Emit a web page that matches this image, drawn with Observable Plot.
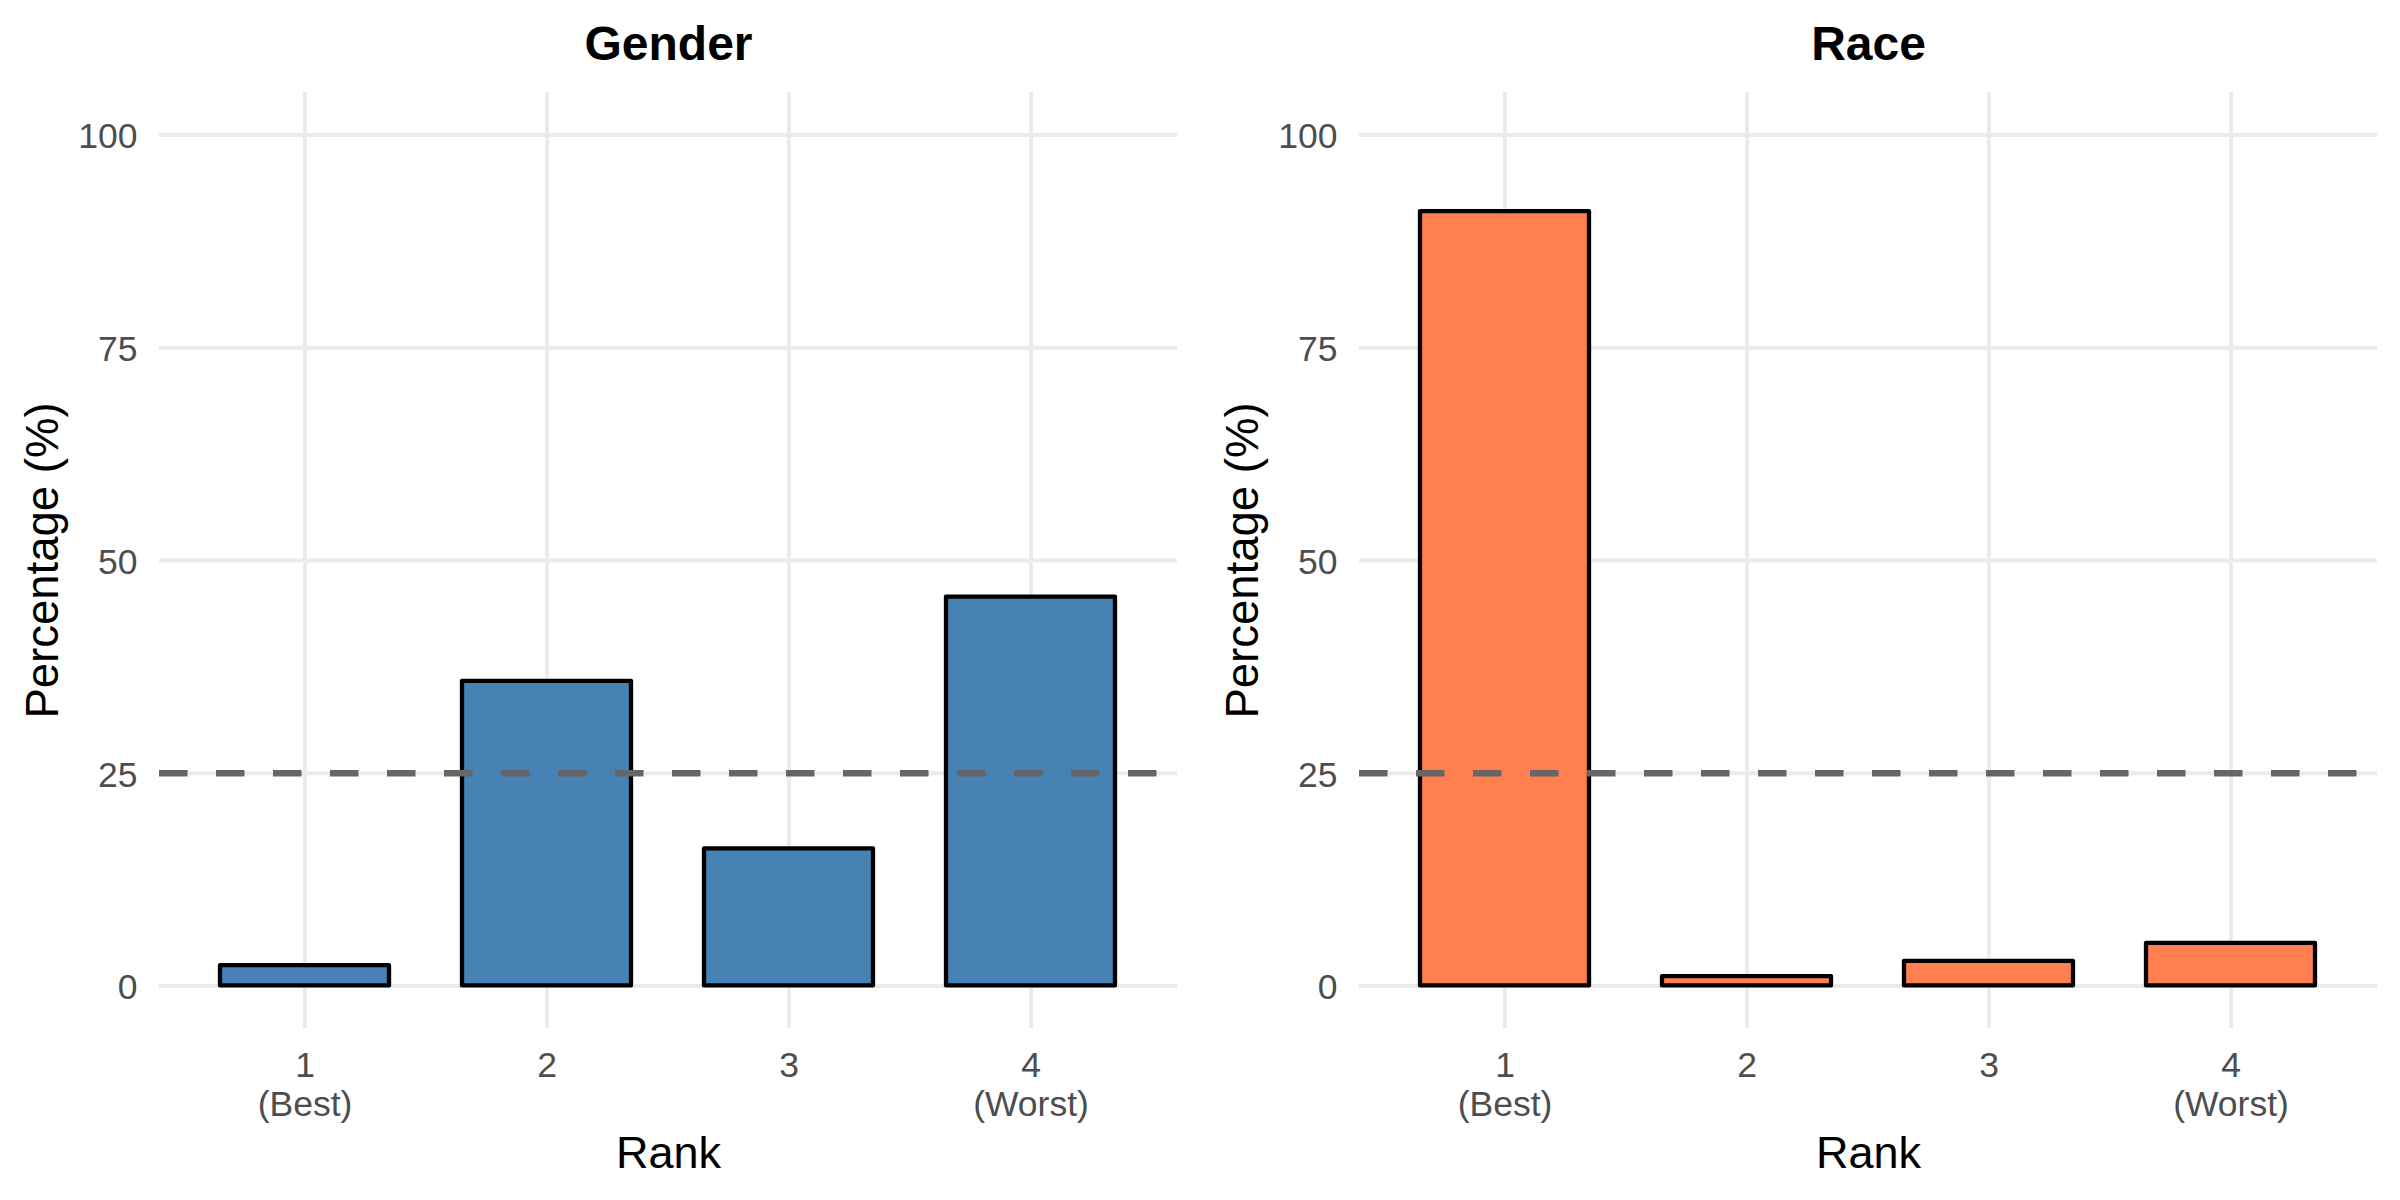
<!DOCTYPE html>
<html>
<head>
<meta charset="utf-8">
<script src="https://cdn.jsdelivr.net/npm/d3@7"></script>
<script src="https://cdn.jsdelivr.net/npm/@observablehq/plot@0.6"></script>
<style>
  html, body { margin: 0; padding: 0; background: #ffffff; }
  #chart { display: flex; width: 2400px; height: 1200px; }
  #chart svg { display: block; }
</style>
</head>
<body>
<div id="chart"></div>
<script>
// ---- data ----
const ranks = ["1", "2", "3", "4"];
const rankLabels = ["1\n(Best)", "2", "3", "4\n(Worst)"];
const panelTitles = ["Gender", "Race"];
const genderValues = [2.4, 35.8, 16.1, 45.7];
const raceValues = [91.0, 1.1, 2.9, 5.0];
const yTicks = [0, 25, 50, 75, 100];
const referenceLine = [25];
const panelFills = ["#4682B4", "#FF7F50"];
const yLabel = "Percentage (%)";
const xLabel = "Rank";

const FONT = "'Liberation Sans', Arial, Helvetica, sans-serif";

function panel(title, values, fill) {
  const data = ranks.map((r, i) => ({rank: r, value: values[i], label: rankLabels[i]}));
  return Plot.plot({
    width: 1200,
    height: 1200,
    marginLeft: 159,
    marginRight: 23,
    marginTop: 92,
    marginBottom: 172,
    style: {fontFamily: FONT, background: "#ffffff", overflow: "visible"},
    x: {type: "band", domain: ranks, paddingInner: 0.3, paddingOuter: 0.25, axis: null},
    y: {domain: [-5, 105], axis: null},
    marks: [
      // grid
      Plot.ruleY(yTicks, {y: d => d, stroke: "#EBEBEB", strokeWidth: 4}),
      Plot.ruleX(ranks, {x: d => d, stroke: "#EBEBEB", strokeWidth: 4}),
      // bars
      Plot.barY(data, {x: "rank", y: "value", fill: fill, stroke: "#000000", strokeWidth: 4.3, strokeLinejoin: "round"}),
      // reference line
      Plot.ruleY(referenceLine, {y: d => d, stroke: "#666666", strokeWidth: 6.5, strokeDasharray: "28.5,28.5"}),
      // y tick labels
      Plot.text(yTicks, {y: d => d, text: d => String(d), frameAnchor: "left", textAnchor: "end", dx: -22, dy: 2, fontSize: 35.5, fill: "#4D4D4D", lineAnchor: "middle"}),
      // x tick labels
      Plot.text(data, {x: "rank", text: "label", frameAnchor: "bottom", lineAnchor: "top", dy: 20.5, fontSize: 35.5, lineHeight: 1.1, fill: "#4D4D4D"}),
      // axis titles
      Plot.text([xLabel], {text: d => d, frameAnchor: "bottom", lineAnchor: "bottom", textAnchor: "middle", dy: 139, fontSize: 45, fill: "#000000"}),
      Plot.text([yLabel], {text: d => d, frameAnchor: "left", textAnchor: "middle", rotate: -90, lineAnchor: "middle", dx: -116, fontSize: 45.5, fill: "#000000"}),
      // panel title
      Plot.text([title], {text: d => d, frameAnchor: "top", lineAnchor: "bottom", textAnchor: "middle", dy: -32.5, fontSize: 48, fontWeight: "bold", fill: "#000000"})
    ]
  });
}

const chart = document.getElementById("chart");
chart.appendChild(panel(panelTitles[0], genderValues, panelFills[0]));
chart.appendChild(panel(panelTitles[1], raceValues, panelFills[1]));
</script>
</body>
</html>
